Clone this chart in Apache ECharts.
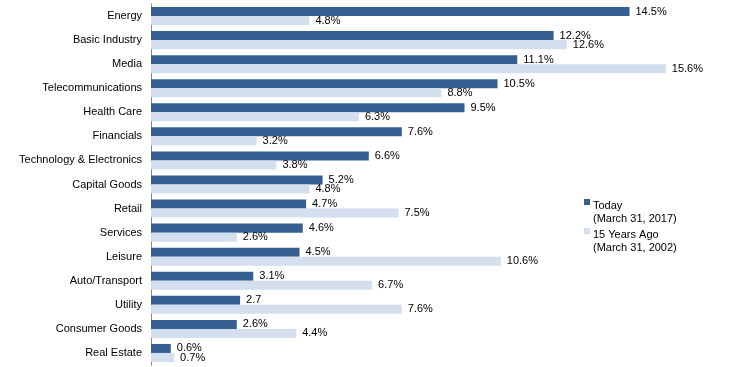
<!DOCTYPE html>
<html><head><meta charset="utf-8">
<script src="https://cdn.jsdelivr.net/npm/echarts@6/dist/echarts.min.js"></script>
<style>html,body{margin:0;padding:0;background:#fff}#c{width:729px;height:367px}</style>
</head><body><div id="c"></div>
<script>
const categories = ['Energy','Basic Industry','Media','Telecommunications','Health Care','Financials','Technology & Electronics','Capital Goods','Retail','Services','Leisure','Auto/Transport','Utility','Consumer Goods','Real Estate'];
const today = [14.5,12.2,11.1,10.5,9.5,7.6,6.6,5.2,4.7,4.6,4.5,3.1,2.7,2.6,0.6];
const ago15 = [4.8,12.6,15.6,8.8,6.3,3.2,3.8,4.8,7.5,2.6,10.6,6.7,7.6,4.4,0.7];
const todayLabels = ['14.5%','12.2%','11.1%','10.5%','9.5%','7.6%','6.6%','5.2%','4.7%','4.6%','4.5%','3.1%','2.7','2.6%','0.6%'];
const agoLabels = ['4.8%','12.6%','15.6%','8.8%','6.3%','3.2%','3.8%','4.8%','7.5%','2.6%','10.6%','6.7%','7.6%','4.4%','0.7%'];
const seriesNames = ['Today','15 Years Ago'];
const seriesDates = ['(March 31, 2017)','(March 31, 2002)'];

const font = 'Liberation Sans, Arial, sans-serif';
const chart = echarts.init(document.getElementById('c'));
const lbl = (arr) => ({show:true, position:'right', distance:6, color:'#000', fontSize:11, fontFamily:font,
  formatter: p => arr[p.dataIndex]});
const icon = 'path://M0,0h6v6h-6z M0,25.99h0.01v0.01h-0.01z';
chart.setOption({
  animation:false,
  grid:{left:151, top:4, width:528, height:361},
  xAxis:{type:'value', min:0, max:16, show:false, splitLine:{show:false}},
  yAxis:{type:'category', data:categories, inverse:true,
    axisLine:{show:true, lineStyle:{color:'#868686', width:1}},
    axisTick:{show:false},
    axisLabel:{color:'#000', fontSize:11, fontFamily:font, margin:9}},
  legend:{orient:'vertical', left:579, top:194, itemGap:3, itemWidth:6, itemHeight:26,
    textStyle:{fontSize:11, fontFamily:font, color:'#000', lineHeight:13, padding:[0,0,0,-2]},
    formatter: n => n + '\n' + seriesDates[seriesNames.indexOf(n)],
    data:[{name:'Today', icon:icon}, {name:'15 Years Ago', icon:icon}]},
  series:[
    {name:'Today', type:'bar', data:today, barGap:'0%', barCategoryGap:'25%',
     itemStyle:{color:'#365F91'}, label:lbl(todayLabels)},
    {name:'15 Years Ago', type:'bar', data:ago15, barGap:'0%', barCategoryGap:'25%',
     itemStyle:{color:'#D3DEEE'}, label:lbl(agoLabels)}
  ]
});
</script></body></html>
